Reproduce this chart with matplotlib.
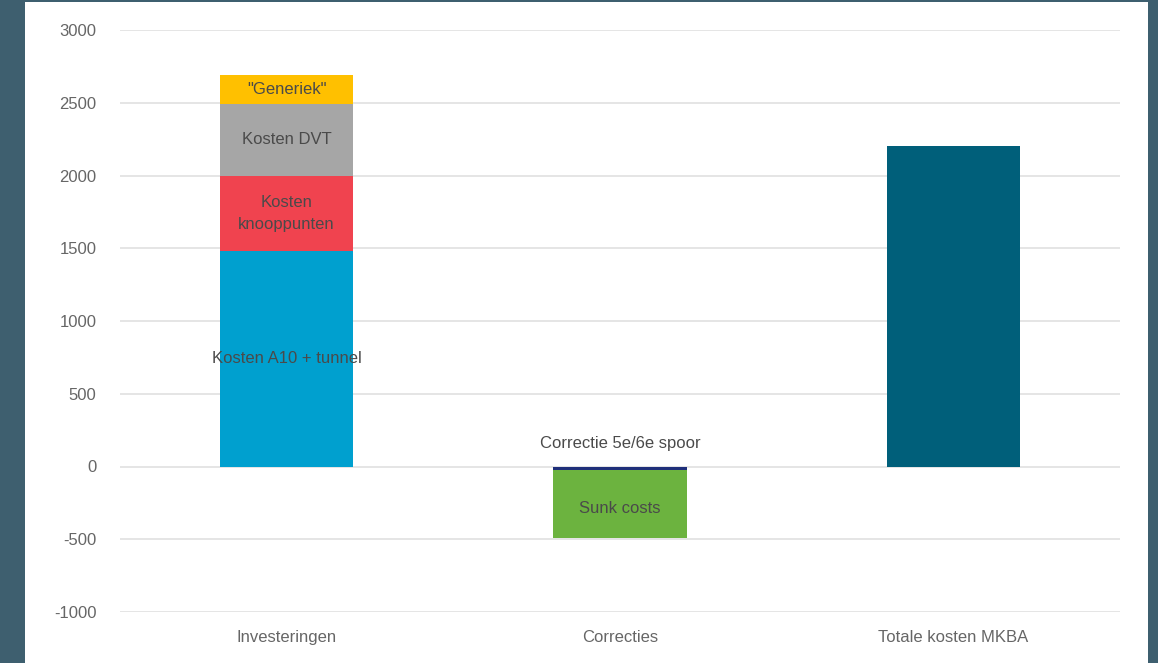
import matplotlib.pyplot as plt
from matplotlib.patches import Rectangle

plt.rcParams['font.family'] = ['Liberation Sans', 'DejaVu Sans']
plt.rcParams['axes.unicode_minus'] = False

categories = ["Investeringen", "Correcties", "Totale kosten MKBA"]

# stacked investment components (positive)
inv_names = ["Kosten A10 + tunnel", "Kosten\nknooppunten", "Kosten DVT", "\"Generiek\""]
inv_values = [1480, 520, 490, 200]
inv_colors = ["#00a0cf", "#f0434f", "#a6a6a6", "#ffc000"]

# corrections (negative)
corr_names = ["Correctie 5e/6e spoor", "Sunk costs"]
corr_values = [-25, -465]
corr_colors = ["#1f2f7a", "#6cb33f"]

total_value = 2200
total_color = "#005f7a"

fig = plt.figure(figsize=(11.58, 6.63), dpi=100)
fig.patch.set_facecolor("#3e5f6f")
fig.patches.append(Rectangle((25 / 1158, 0), 1123 / 1158, 661 / 663,
                             transform=fig.transFigure, facecolor="white",
                             edgecolor="none", zorder=-10))

ax = fig.add_axes([120 / 1158, 1 - 612 / 663, 1000 / 1158, 582 / 663])
ax.set_facecolor("none")
ax.set_zorder(5)

width = 0.4
text_col = "#4a4a4a"

# Investeringen
bottom = 0
for name, val, col in zip(inv_names, inv_values, inv_colors):
    ax.bar(0, val, width, bottom=bottom, color=col, zorder=2)
    ax.text(0, bottom + val / 2, name, ha="center", va="center",
            fontsize=12, color=text_col, zorder=3, linespacing=1.6)
    bottom += val

# Correcties
bottom = 0
for i, (name, val, col) in enumerate(zip(corr_names, corr_values, corr_colors)):
    ax.bar(1, val, width, bottom=bottom, color=col, zorder=2)
    if i == 0:
        ax.text(1, 160, name, ha="center", va="center",
                fontsize=12, color=text_col, zorder=3)
    else:
        ax.text(1, bottom + val / 2 - 30, name, ha="center", va="center",
                fontsize=12, color=text_col, zorder=3)
    bottom += val

# Totaal
ax.bar(2, total_value, width, color=total_color, zorder=2)

ax.set_xlim(-0.5, 2.5)
ax.set_ylim(-1000, 3000)
ax.set_yticks(range(-1000, 3001, 500))
ax.set_xticks(range(len(categories)))
ax.set_xticklabels(categories)
ax.yaxis.grid(True, color="#e0e0e0", linewidth=1.2, zorder=1)
ax.set_axisbelow(True)
for s in ax.spines.values():
    s.set_visible(False)
ax.tick_params(axis="both", length=0, labelsize=12, labelcolor="#666666")
ax.tick_params(axis="y", pad=17)
ax.tick_params(axis="x", pad=13)

fig.savefig("out.png", dpi=100, facecolor=fig.get_facecolor())
